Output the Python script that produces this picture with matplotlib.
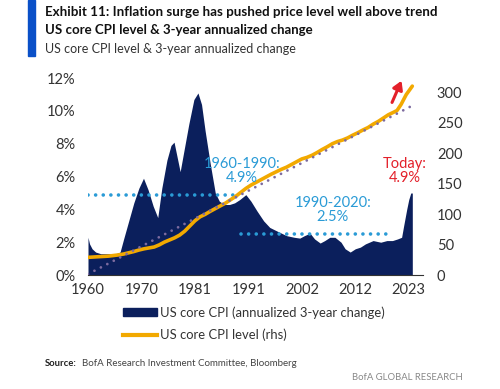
import matplotlib.pyplot as plt
from matplotlib.patches import Rectangle
from matplotlib.lines import Line2D

plt.rcParams['font.family'] = ['Lato', 'DejaVu Sans']

# 3-year annualized change in core CPI (%)
chg_years = [1960.0, 1960.3, 1960.8, 1961.5, 1962.5, 1963.5, 1964.5, 1965.5, 1966.3,
             1967.0, 1968.0, 1969.0, 1970.0, 1970.9, 1971.8, 1972.8, 1973.7, 1974.5,
             1975.5, 1976.3, 1976.9, 1977.5, 1978.1, 1978.8, 1979.8, 1980.8, 1981.6,
             1982.3, 1983.0, 1984.0, 1985.0, 1985.8, 1986.8, 1987.8, 1988.8, 1989.8,
             1991.0, 1992.0, 1993.2, 1994.5, 1995.7, 1997.0, 1999.0, 2000.5, 2001.6,
             2002.5, 2003.6, 2004.5, 2005.6, 2006.5, 2007.5, 2008.5, 2009.7, 2010.5,
             2011.5, 2012.5, 2013.5, 2014.5, 2016.0, 2017.5, 2018.7, 2019.8, 2020.8,
             2021.6, 2022.0, 2022.6, 2023.0, 2023.4, 2023.7]
chg_pct = [2.3, 1.9, 1.6, 1.4, 1.3, 1.3, 1.3, 1.3, 1.4,
           2.2, 3.3, 4.4, 5.3, 5.9, 5.2, 4.2, 3.5, 5.3,
           7.0, 7.9, 8.1, 7.2, 6.3, 7.5, 9.2, 10.7, 11.1,
           10.4, 8.8, 6.8, 5.0, 4.5, 4.3, 4.3, 4.4, 4.6,
           4.9, 4.5, 3.9, 3.3, 2.9, 2.7, 2.4, 2.3, 2.25,
           2.4, 2.55, 2.2, 1.95, 2.1, 2.3, 2.3, 2.0, 1.6,
           1.4, 1.6, 1.7, 1.9, 2.1, 2.0, 2.1, 2.1, 2.2,
           2.3, 3.0, 4.0, 4.6, 5.0, 5.0]

# core CPI level (rhs)
lvl_years = [1960, 1961, 1962, 1963, 1964, 1965, 1966, 1967, 1968, 1969,
             1970, 1971, 1972, 1973, 1974, 1975, 1976, 1977, 1978, 1979,
             1980, 1981, 1982, 1983, 1984, 1985, 1986, 1987, 1988, 1989,
             1990, 1991, 1992, 1993, 1994, 1995, 1996, 1997, 1998, 1999,
             2000, 2001, 2002, 2003, 2004, 2005, 2006, 2007, 2008, 2009,
             2010, 2011, 2012, 2013, 2014, 2015, 2016, 2017, 2018, 2019,
             2020, 2020.7, 2021.5, 2022.5, 2023.7]
lvl = [29, 29.5, 30, 30.5, 31, 32, 33, 34.5, 36.5, 38.5,
       41, 43, 44.5, 46, 49.5, 54, 57.5, 61, 65.5, 72,
       80.5, 89, 95.5, 99.5, 104.5, 109, 113.5, 118, 123.5, 129,
       135.5, 142, 147.5, 152, 156.5, 161, 165.5, 169.5, 173.5, 177,
       181.5, 186, 190.5, 193, 196.5, 201, 206, 210.5, 215.5, 219,
       221.5, 225, 229.5, 233.5, 238, 242, 247.5, 252, 257.5, 263,
       267, 270, 280, 296, 310]

# linear trend of the level
trend_years = [1960, 2023.7]
trend_lvl = [1.5, 278]

# average annualized change over the two periods
avg_periods = [(1960, 1989, 4.9), (1990, 2020, 2.5)]

tick_pos = [1960 + 10.5 * i for i in range(7)]
tick_lbl = ['1960', '1970', '1981', '1991', '2002', '2012', '2023']

navy = '#0b1f5c'
gold = '#f2a900'
sky = '#2a9bd6'
red = '#e3202a'
purple = '#7d6b9f'

fig = plt.figure(figsize=(5, 3.89), dpi=100)
ax = fig.add_axes([0.176, 0.293, 0.67, 0.506])
ax2 = ax.twinx()

ax.fill_between(chg_years, chg_pct, 0, color=navy, lw=0, zorder=1)
for x0, x1, v in avg_periods:
    ax.plot([x0, x1], [v, v], color=sky, lw=2.6, dashes=(0.01, 2.1),
            dash_capstyle='round', zorder=3)

ax2.plot(lvl_years, lvl, color=gold, lw=2.6, solid_capstyle='round', zorder=2)
ax2.plot(trend_years, trend_lvl, color=purple, lw=2.0, dashes=(0.01, 2.6),
         dash_capstyle='round', zorder=3)

ax.set_xlim(1960, 2025.8)
ax.set_ylim(0, 12)
ax2.set_ylim(0, 323)
ax.set_xticks(tick_pos)
ax.set_xticklabels(tick_lbl)
ax.set_yticks(range(0, 13, 2))
ax.set_yticklabels([f'{v}%' for v in range(0, 13, 2)])
ax2.set_yticks(range(0, 301, 50))

for a in (ax, ax2):
    for s in ('top', 'left', 'right', 'bottom'):
        a.spines[s].set_visible(False)
    a.tick_params(length=0, labelsize=10.5, labelcolor='#333333')
ax.tick_params(axis='y', pad=9)
ax.tick_params(axis='x', pad=6)
ax2.tick_params(axis='y', pad=10)
ax.spines['bottom'].set_visible(True)
ax.spines['bottom'].set_color('#333333')
ax.spines['bottom'].set_linewidth(0.8)

ax2.text(1990.3, 170, '1960-1990:\n4.9%', color=sky, ha='center', va='center',
         fontsize=10.5, linespacing=1.0)
ax2.text(2008.1, 106, '1990-2020:\n2.5%', color=sky, ha='center', va='center',
         fontsize=10.5, linespacing=1.0)
ax2.text(2022.3, 170, 'Today:\n4.9%', color=red, ha='center', va='center',
         fontsize=10.5, linespacing=1.0)
ax2.annotate('', xy=(2021.8, 323), xytext=(2019.5, 279),
             arrowprops=dict(arrowstyle='-|>,head_length=0.5,head_width=0.3',
                             color=red, lw=2.2), annotation_clip=False)


def fx(px):
    return px / 500


def fy(py):
    return 1 - py / 389


fig.patches.append(Rectangle((fx(28), fy(56)), fx(7), 56 / 389, color='#0a50c8',
                             transform=fig.transFigure, figure=fig))
fig.text(fx(45), fy(12), 'Exhibit 11: Inflation surge has pushed price level well above trend',
         fontsize=9.65, fontweight='bold', color='#111111', va='center')
fig.text(fx(45), fy(30), 'US core CPI level & 3-year annualized change',
         fontsize=9.5, fontweight='bold', color='#111111', va='center')
fig.text(fx(45), fy(49), 'US core CPI level & 3-year annualized change',
         fontsize=9.0, color='#333333', va='center')

handles = [Rectangle((0, 0), 1, 1, color=navy),
           Line2D([0], [0], color=gold, lw=3)]
fig.legend(handles, ['US core CPI (annualized 3-year change)', 'US core CPI level (rhs)'],
           loc='upper left', bbox_to_anchor=(fx(123), fy(306)), frameon=False,
           fontsize=9.4, handlelength=2.6, handleheight=0.6, handletextpad=0.2,
           labelspacing=0.75, labelcolor='#333333', borderaxespad=0, borderpad=0)

fig.text(fx(45), fy(363), 'Source:', fontsize=6.8, fontweight='bold', color='#222222', va='center')
fig.text(fx(82), fy(363), 'BofA Research Investment Committee, Bloomberg', fontsize=7.0,
         color='#444444', va='center')
fig.text(fx(463), fy(378), 'BofA GLOBAL RESEARCH', fontsize=6.8, color='#888888',
         va='center', ha='right')

fig.savefig('out.png', dpi=100)
